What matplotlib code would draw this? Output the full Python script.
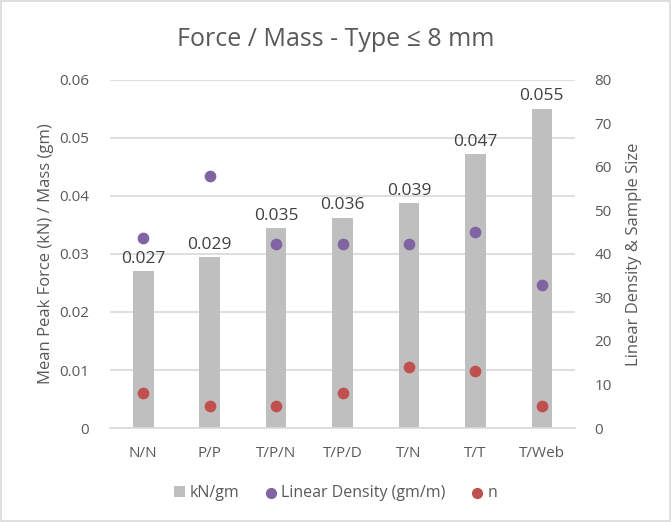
import matplotlib.pyplot as plt
import numpy as np

categories = ['N/N', 'P/P', 'T/P/N', 'T/P/D', 'T/N', 'T/T', 'T/Web']
force_mass = [0.027, 0.0294, 0.0344, 0.0362, 0.0387, 0.0472, 0.055]
force_labels = ['0.027', '0.029', '0.035', '0.036', '0.039', '0.047', '0.055']
linear_density = [43.7, 57.9, 42.3, 42.3, 42.3, 45.1, 32.8]
n_samples = [8, 5, 5, 8, 14, 13, 5]

plt.rcParams['font.family'] = ['Open Sans', 'DejaVu Sans']
txt = '#595959'
grid = '#d9d9d9'

fig = plt.figure(figsize=(6.71, 5.22), dpi=100)
fig.patches.append(plt.Rectangle((0.002, 0.002), 0.996, 0.996, transform=fig.transFigure,
                                 fill=False, edgecolor='#d9d9d9', linewidth=1.2))
ax = fig.add_axes([0.164, 0.180, 0.693, 0.667])
x = np.arange(len(categories))

bars = ax.bar(x, force_mass, width=0.31, color='#bfbfbf', label='kN/gm', zorder=2)
for xi, v, lab in zip(x, force_mass, force_labels):
    ax.text(xi, v + 0.0008, lab, ha='center', va='bottom', fontsize=12.5, color='#404040')

ax.set_ylim(0, 0.06)
ax.set_xlim(-0.5, len(categories) - 0.5)
ax.set_yticks(np.arange(0, 0.061, 0.01))
ax.set_yticklabels(['0', '0.01', '0.02', '0.03', '0.04', '0.05', '0.06'])
ax.set_xticks(x)
ax.set_xticklabels(categories)
ax.yaxis.grid(True, color=grid, linewidth=1.2, zorder=0)
ax.set_axisbelow(True)
for s in ['top', 'right', 'left']:
    ax.spines[s].set_visible(False)
ax.spines['bottom'].set_color(grid)
ax.spines['bottom'].set_linewidth(1.2)
ax.tick_params(axis='y', length=0, colors=txt, labelsize=11, pad=15)
ax.tick_params(axis='x', length=0, colors=txt, labelsize=11, pad=13)
ax.set_ylabel('Mean Peak Force (kN) / Mass (gm)', color=txt, fontsize=12, labelpad=4)

ax2 = ax.twinx()
ax2.scatter(x, linear_density, s=55, color='#8064a2', label='Linear Density (gm/m)', zorder=3)
ax2.scatter(x, n_samples, s=55, color='#c0504d', label='n', zorder=3)
ax2.set_ylim(0, 80)
ax2.set_yticks(np.arange(0, 81, 10))
for s in ['top', 'right', 'left', 'bottom']:
    ax2.spines[s].set_visible(False)
ax2.tick_params(axis='y', length=0, colors=txt, labelsize=11, pad=14)
ax2.set_ylabel('Linear Density & Sample Size', color=txt, fontsize=12, labelpad=10)

fig.suptitle('Force / Mass - Type ≤ 8 mm', y=0.948, fontsize=18, color=txt)

h1, l1 = ax.get_legend_handles_labels()
h2, l2 = ax2.get_legend_handles_labels()
fig.legend(h1 + h2, l1 + l2, loc='center', bbox_to_anchor=(0.5, 0.055), ncol=3, frameon=False,
           fontsize=11.5, labelcolor=txt, handlelength=0.7, handletextpad=0.3, columnspacing=1.6,
           markerscale=0.95)

fig.savefig('out.png', dpi=100)
